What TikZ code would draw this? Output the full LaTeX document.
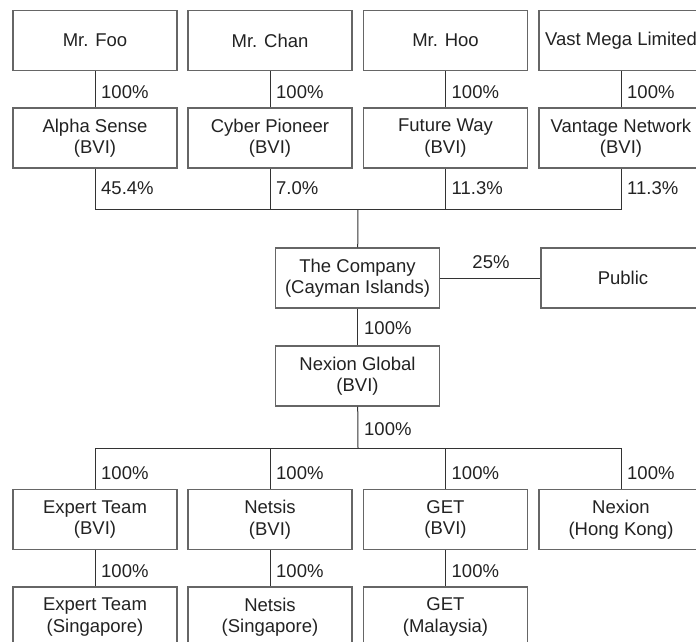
\documentclass[tikz,border=0pt]{standalone}
\usepackage{fontspec}
\setmainfont{Liberation Sans}
\newcommand\fsz{\fontsize{18.5}{21.5}\selectfont}
\definecolor{boxc}{HTML}{666666}
\definecolor{linec}{HTML}{333333}
\definecolor{txt}{HTML}{222222}
\begin{document}
\begin{tikzpicture}[x=1pt,y=-1pt,
  box/.style={draw=boxc, line width=1.1pt, minimum width=164pt, minimum height=60pt, inner sep=0pt, align=center, font=\fsz, text=txt},
  pct/.style={anchor=west, inner sep=0pt, font=\fsz, text=txt},
  link/.style={draw=linec, line width=1pt}]
\useasboundingbox (0,0) rectangle (696,641);
\clip (0,0) rectangle (696,641);
% top row
\node[box] (foo)  at (95,40.5) {Mr. Foo};
\node[box] (chan) at (270,40.5) {Mr. Chan};
\node[box] (hoo)  at (445.5,40.5) {Mr. Hoo};
\node[box] (vast) at (621,40.5) {Vast Mega Limited};
% second row
\node[box] (as) at (95,138) {Alpha Sense\\(BVI)};
\node[box] (cp) at (270,138) {Cyber Pioneer\\(BVI)};
\node[box] (fw) at (445.5,138) {Future Way\\(BVI)};
\node[box] (vn) at (621,138) {Vantage Network\\(BVI)};
% company
\coordinate (j1) at (358,209);
\node[box] (co)  at (357.5,278) {The Company\\(Cayman Islands)};
\node[box] (pub) at (623,278) {Public};
\node[box] (ng)  at (357.5,376) {Nexion Global\\(BVI)};
\coordinate (j2) at (358,448);
% third row
\node[box] (etb) at (95,519.5) {Expert Team\\(BVI)};
\node[box] (nb)  at (270,519.5) {Netsis\\(BVI)};
\node[box] (gb)  at (445.5,519.5) {GET\\(BVI)};
\node[box] (nhk) at (621,519.5) {Nexion\\(Hong Kong)};
% fourth row
\node[box] (ets) at (95,617) {Expert Team\\(Singapore)};
\node[box] (ns)  at (270,617) {Netsis\\(Singapore)};
\node[box] (gm)  at (445.5,617) {GET\\(Malaysia)};
% connectors
\draw[link] (foo) -- (as);
\draw[link] (chan) -- (cp);
\draw[link] (hoo) -- (fw);
\draw[link] (vast) -- (vn);
\draw[link] (as.south) |- (j1);
\draw[link] (cp.south) |- (j1);
\draw[link] (fw.south) |- (j1);
\draw[link] (vn.south) |- (j1);
\draw[link] (j1) -- (co);
\draw[link] (co) -- (pub);
\draw[link] (co) -- (ng);
\draw[link] (ng) -- (j2);
\draw[link] (j2) -| (etb.north);
\draw[link] (j2) -| (nb.north);
\draw[link] (j2) -| (gb.north);
\draw[link] (j2) -| (nhk.north);
\draw[link] (etb) -- (ets);
\draw[link] (nb) -- (ns);
\draw[link] (gb) -- (gm);
% labels
\node[pct] (l1) at (101,92.5) {100\%};
\node[pct] (l2) at (276,92.5) {100\%};
\node[pct] (l3) at (451.5,92.5) {100\%};
\node[pct] (l4) at (627,92.5) {100\%};
\node[pct] (l5) at (101,188.5) {45.4\%};
\node[pct] (l6) at (276,188.5) {7.0\%};
\node[pct] (l7) at (451.5,188.5) {11.3\%};
\node[pct] (l8) at (627,188.5) {11.3\%};
\node[inner sep=0pt, font=\fsz, text=txt] (l9) at (491,262.5) {25\%};
\node[pct] (l10) at (364,328) {100\%};
\node[pct] (l11) at (364,429) {100\%};
\node[pct] (l12) at (101,473) {100\%};
\node[pct] (l13) at (276,473) {100\%};
\node[pct] (l14) at (451.5,473) {100\%};
\node[pct] (l15) at (627,473) {100\%};
\node[pct] (l16) at (101,571) {100\%};
\node[pct] (l17) at (276,571) {100\%};
\node[pct] (l18) at (451.5,571) {100\%};
\end{tikzpicture}
\end{document}
